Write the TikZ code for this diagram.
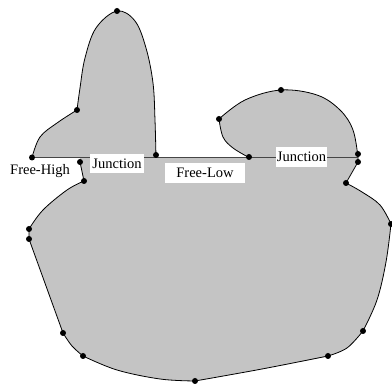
\documentclass[tikz,border=0pt]{standalone}
\usepackage{fontspec}
\setmainfont{Liberation Serif}
\definecolor{shapegray}{RGB}{196,196,196}
\definecolor{linegray}{RGB}{70,70,70}
\begin{document}
\begin{tikzpicture}[x=1pt,y=-1pt,
  dot/.style={fill=black,circle,inner sep=0pt,minimum size=6pt},
  outl/.style={draw=black,line width=0.8pt},
  lab/.style={fill=white,inner sep=0pt,font=\fontsize{14.5}{16}\selectfont},
  sm/.style={smooth,tension=0.6}]
\useasboundingbox (0,0) rectangle (392,385);
% key points
\coordinate (top) at (117,11);
\coordinate (lb) at (77,110);
\coordinate (ll) at (32,157.5);
\coordinate (lr) at (156,155);
\coordinate (j1) at (80,162);
\coordinate (j2) at (84,181);
\coordinate (rt) at (281,90);
\coordinate (rl) at (219,119);
\coordinate (rb) at (249,157);
\coordinate (rr1) at (358,154);
\coordinate (rr2) at (358,162);
\coordinate (rr3) at (346,183);
\coordinate (b1) at (29,229);
\coordinate (b2) at (29,239);
\coordinate (b3) at (391,224);
\coordinate (b4) at (63,333);
\coordinate (b5) at (83,356);
\coordinate (b6) at (195,381);
\coordinate (b7) at (328,356);
\coordinate (b8) at (363,331);
\coordinate (lineL) at (32,157.5);
\coordinate (lineR) at (358,157.5);
% fills
\fill[shapegray] plot[sm] coordinates {(32,157.5) (40,137) (57,123) (77,110)}
  -- plot[sm] coordinates {(77,110) (80,88) (85,58) (96,28) (117,11) (135,21) (146,48) (153,83) (155,120) (156,157.5)} -- cycle;
\fill[shapegray] plot[sm] coordinates {(249,157.5) (233,148) (223,137) (219,119)}
  -- plot[sm] coordinates {(219,119) (245,100) (281,90) (317,95) (340,110) (353,130) (358,157.5)} -- cycle;
\fill[shapegray] (80,157.5) -- (j1) -- (j2)
  -- plot[sm] coordinates {(84,181) (67,190) (43,210) (29,229)}
  -- (b2) -- (b4)
  -- plot[sm] coordinates {(63,333) (72,346) (83,356)}
  -- plot[sm] coordinates {(83,356) (117,370) (160,379) (195,381)}
  -- plot[sm] coordinates {(195,381) (262,369) (328,356)}
  -- plot[sm] coordinates {(328,356) (347,348) (363,331)}
  -- plot[sm] coordinates {(363,331) (377,300) (386,262) (391,224)}
  -- plot[sm] coordinates {(391,224) (380,205) (362,192) (346,183)}
  -- (rr2) -- (358,157.5) -- cycle;
% outlines
\draw[outl] plot[sm] coordinates {(32,157.5) (40,137) (57,123) (77,110)};
\draw[outl] plot[sm] coordinates {(77,110) (80,88) (85,58) (96,28) (117,11) (135,21) (146,48) (153,83) (155,120) (156,157.5)};
\draw[outl] plot[sm] coordinates {(249,157.5) (233,148) (223,137) (219,119)};
\draw[outl] plot[sm] coordinates {(219,119) (245,100) (281,90) (317,95) (340,110) (353,130) (358,157.5)};
\draw[outl] (j1) -- (j2);
\draw[outl] plot[sm] coordinates {(84,181) (67,190) (43,210) (29,229)};
\draw[outl] (b1) -- (b2) -- (b4);
\draw[outl] plot[sm] coordinates {(63,333) (72,346) (83,356)};
\draw[outl] plot[sm] coordinates {(83,356) (117,370) (160,379) (195,381)};
\draw[outl] plot[sm] coordinates {(195,381) (262,369) (328,356)};
\draw[outl] plot[sm] coordinates {(328,356) (347,348) (363,331)};
\draw[outl] plot[sm] coordinates {(363,331) (377,300) (386,262) (391,224)};
\draw[outl] plot[sm] coordinates {(391,224) (380,205) (362,192) (346,183)};
\draw[outl] (rr3) -- (rr2) -- (rr1);
% horizontal line
\draw[linegray,line width=1.6pt] (lineL) -- (lineR);
% labels
\node[lab] (fh) at (40,171) {Free-High};
\node[lab,minimum width=54pt,minimum height=19pt] (jn1) at (117,163.5) {Junction};
\node[lab,minimum width=51pt,minimum height=20pt] (jn2) at (301.5,157) {Junction};
\node[lab,minimum width=80pt,minimum height=20pt] (fl) at (205,173) {Free-Low};
% dots
\foreach \p in {top,lb,ll,lr,j1,j2,rt,rl,rb,rr1,rr2,rr3,b1,b2,b3,b4,b5,b6,b7,b8}
  \node[dot] (d\p) at (\p) {};
\end{tikzpicture}
\end{document}
